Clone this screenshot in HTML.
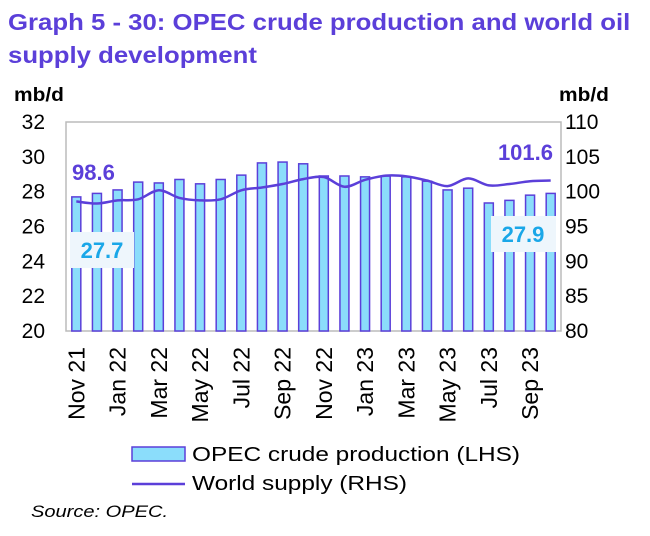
<!DOCTYPE html>
<html><head><meta charset="utf-8"><style>
body{margin:0;background:#fff;font-family:"Liberation Sans",Arial,sans-serif}
</style></head><body>
<svg width="650" height="531" xmlns="http://www.w3.org/2000/svg" font-family="Liberation Sans, Arial, sans-serif">
<text transform="translate(8,30) scale(1.12,1)" font-size="23" font-weight="bold" fill="#5B3FD9">Graph 5 - 30: OPEC crude production and world oil</text>
<text transform="translate(8,63) scale(1.12,1)" font-size="23" font-weight="bold" fill="#5B3FD9">supply development</text>
<text transform="translate(14,101) scale(1.1,1)" font-size="19" font-weight="bold" fill="#000">mb/d</text>
<text transform="translate(559,101) scale(1.1,1)" font-size="19" font-weight="bold" fill="#000">mb/d</text>
<rect x="66" y="122" width="495" height="209" fill="none" stroke="#bbb" stroke-width="1.5"/>
<g id="g"></g>
<rect x="132" y="447" width="53" height="14" fill="#8BDDFB" stroke="#5B3FD9" stroke-width="1.5"/>
<text transform="translate(192,461) scale(1.22,1)" font-size="20">OPEC crude production (LHS)</text>
<line x1="132" y1="484" x2="185" y2="484" stroke="#5B3FD9" stroke-width="2.5"/>
<text transform="translate(192,490) scale(1.22,1)" font-size="20">World supply (RHS)</text>
<text transform="translate(31,517) scale(1.18,1)" font-size="17" font-style="italic">Source: OPEC.</text>
</svg>
<script>
const categories=["Nov 21","Dec 21","Jan 22","Feb 22","Mar 22","Apr 22","May 22","Jun 22","Jul 22","Aug 22","Sep 22","Oct 22","Nov 22","Dec 22","Jan 23","Feb 23","Mar 23","Apr 23","May 23","Jun 23","Jul 23","Aug 23","Sep 23","Oct 23"];
const opec=[27.7,27.9,28.1,28.55,28.5,28.7,28.45,28.7,28.95,29.65,29.7,29.6,28.9,28.9,28.85,28.9,28.85,28.6,28.1,28.2,27.35,27.5,27.8,27.9];
const supply=[98.6,98.3,98.75,98.9,100.2,99.1,98.75,98.9,100.2,100.6,101.1,101.8,102.1,100.7,101.7,102.3,102.2,101.6,100.8,101.9,100.9,101.1,101.5,101.6];
const leftTicks=[20,22,24,26,28,30,32];
const rightTicks=[80,85,90,95,100,105,110];
const NS="http://www.w3.org/2000/svg",g=document.getElementById('g');
const X0=66,X1=561,Y0=331,Y1=122;
const x=i=>X0+(X1-X0)*(i+0.5)/categories.length;
const yl=v=>Y0-(v-20)/12*(Y0-Y1);
const yr=v=>Y0-(v-80)/30*(Y0-Y1);
function el(t,a,txt){const e=document.createElementNS(NS,t);for(const k in a)e.setAttribute(k,a[k]);if(txt!=null)e.textContent=txt;g.appendChild(e);return e;}
leftTicks.forEach(v=>{const t=el('text',{x:45,y:yl(v)+7,'font-size':21,'text-anchor':'end'},v);

});
rightTicks.forEach(v=>{const t=el('text',{x:565,y:yr(v)+7,'font-size':21},v);

});
opec.forEach((v,i)=>{const r=el('rect',{x:x(i)-4.5,y:yl(v),width:9,height:Y0-yl(v),fill:'#8BDDFB',stroke:'#5B3FD9','stroke-width':1.5});

});
categories.forEach((c,i)=>{if(i%2)return;const t=el('text',{x:0,y:0,'font-size':23,'text-anchor':'end',transform:`translate(${x(i)+8},347) rotate(-90)`},c);

});
const p=supply.map((v,i)=>[x(i),yr(v)]);
let d=`M${p[0][0]},${p[0][1]}`;
for(let i=0;i<p.length-1;i++){const a=p[i-1]||p[i],b=p[i],c=p[i+1],e=p[i+2]||c;
d+=` C${b[0]+(c[0]-a[0])/6},${b[1]+(c[1]-a[1])/6} ${c[0]-(e[0]-b[0])/6},${c[1]-(e[1]-b[1])/6} ${c[0]},${c[1]}`;}
const ln=el('path',{d,fill:'none',stroke:'#5B3FD9','stroke-width':2.5});


const b1=el('rect',{x:70,y:232,width:64,height:36,fill:'#EEF6FC'});


const t1=el('text',{x:102,y:258,'font-size':22,'font-weight':'bold',fill:'#1AA7E8','text-anchor':'middle'},opec[0].toFixed(1));


const b2=el('rect',{x:491,y:216,width:65,height:36,fill:'#EEF6FC'});


const t2=el('text',{x:523,y:242,'font-size':22,'font-weight':'bold',fill:'#1AA7E8','text-anchor':'middle'},opec[23].toFixed(1));


const t3=el('text',{x:72,y:180,'font-size':22,'font-weight':'bold',fill:'#5B3FD9'},supply[0].toFixed(1));


const t4=el('text',{x:553,y:160,'font-size':22,'font-weight':'bold',fill:'#5B3FD9','text-anchor':'end'},supply[23].toFixed(1));


</script>
</body></html>
